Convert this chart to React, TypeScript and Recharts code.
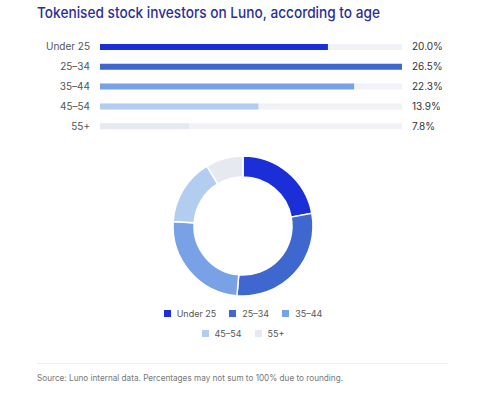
import { BarChart, Bar, XAxis, YAxis, Cell, PieChart, Pie } from "recharts";

const ageGroups = ["Under 25", "25–34", "35–44", "45–54", "55+"];
const shares = [20.0, 26.5, 22.3, 13.9, 7.8];
const valueLabels = ["20.0%", "26.5%", "22.3%", "13.9%", "7.8%"];
const colors = ["#1b2fd8", "#3e68cf", "#78a2e5", "#b3cdf0", "#e6e9f0"];

const rows = ageGroups.map((g, i) => ({ group: g, share: shares[i], label: valueLabels[i] }));

const font = "Inter, 'Noto Sans', sans-serif";

const ValueTick = (p: any) => (
  <text
    x={p.x + 10}
    y={p.y}
    dy="0.355em"
    textAnchor="start"
    fill="#333"
    fontSize={10}
    fontFamily={font}
  >
    {p.payload.value}
  </text>
);

export default function App() {
  return (
    <div
      style={{
        position: "absolute",
        left: 0,
        top: 0,
        width: 493,
        height: 401,
        background: "#fff",
        fontFamily: font,
        overflow: "hidden",
      }}
    >
      <svg width={493} height={401} style={{ position: "absolute", left: 0, top: 0 }}>
        <text
          x={37}
          y={18}
          fontSize={15}
          fontWeight={500}
          fill="#2a2f96"
          fontFamily={font}
          textLength={343}
          lengthAdjust="spacingAndGlyphs"
        >
          Tokenised stock investors on Luno, according to age
        </text>
        <line x1={37} x2={448} y1={363.5} y2={363.5} stroke="#f0f0f2" strokeWidth={1} />
        <text
          x={37}
          y={381}
          fontSize={8.5}
          fill="#777"
          fontFamily={font}
          textLength={306}
          lengthAdjust="spacingAndGlyphs"
        >
          Source: Luno internal data. Percentages may not sum to 100% due to rounding.
        </text>
      </svg>

      <div style={{ position: "absolute", left: 0, top: 0 }}>
        <BarChart
          width={493}
          height={140}
          data={rows}
          layout="vertical"
          margin={{ top: 37, right: 0, bottom: 4, left: 0 }}
        >
          <XAxis type="number" domain={[0, 26.5]} hide />
          <YAxis
            yAxisId="left"
            type="category"
            dataKey="group"
            width={100}
            interval={0}
            axisLine={false}
            tickLine={false}
            tickSize={0}
            tickMargin={10}
            tick={{ fill: "#555", fontSize: 10, fontFamily: font }}
          />
          <YAxis
            yAxisId="right"
            orientation="right"
            type="category"
            dataKey="label"
            width={91}
            interval={0}
            axisLine={false}
            tickLine={false}
            tickSize={0}
            tickMargin={0}
            tick={ValueTick}
          />
          <Bar
            yAxisId="left"
            dataKey="share"
            barSize={6}
            background={{ fill: "#f1f2f6" }}
            isAnimationActive={false}
          >
            {rows.map((r, i) => (
              <Cell key={r.group} fill={colors[i]} />
            ))}
          </Bar>
        </BarChart>
      </div>

      <div style={{ position: "absolute", left: 0, top: 146 }}>
        <PieChart width={493} height={160} margin={{ top: 0, right: 0, bottom: 0, left: 0 }}>
          <Pie
            data={rows}
            dataKey="share"
            nameKey="group"
            cx={243}
            cy={80}
            innerRadius={49}
            outerRadius={70}
            startAngle={90}
            endAngle={-270}
            stroke="#fff"
            strokeWidth={1.5}
            isAnimationActive={false}
          >
            {rows.map((r, i) => (
              <Cell key={r.group} fill={colors[i]} />
            ))}
          </Pie>
        </PieChart>
      </div>

      <div
        style={{
          position: "absolute",
          left: 163,
          top: 307,
          width: 160,
          display: "flex",
          flexWrap: "wrap",
          justifyContent: "center",
          rowGap: 8,
          columnGap: 13,
          fontSize: 9,
          color: "#555",
        }}
      >
        {ageGroups.map((g, i) => (
          <span key={g} style={{ display: "inline-flex", alignItems: "center", height: 12 }}>
            <span
              style={{ width: 7, height: 7, background: colors[i], marginRight: 6, display: "inline-block" }}
            />
            {g}
          </span>
        ))}
      </div>
    </div>
  );
}
